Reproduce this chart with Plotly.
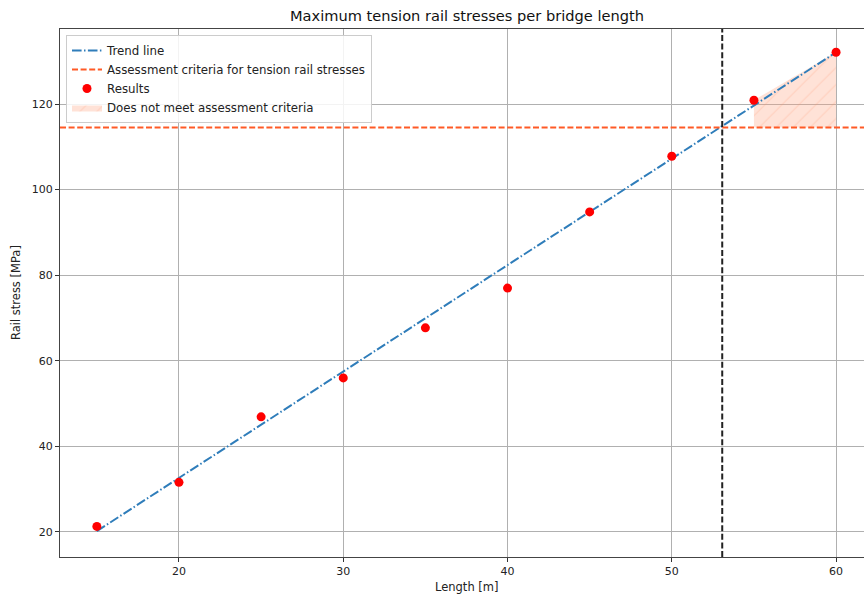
import plotly.graph_objects as go

# ---- data ----
lengths = [15, 20, 25, 30, 35, 40, 45, 50, 55, 60]
results = [21.3, 31.6, 46.9, 56.0, 67.7, 77.0, 94.8, 107.8, 120.9, 132.1]
trend_x = [15, 60]
trend_y = [20.2, 132.1]
criteria = 114.5
limit_length = 53.07
x_ticks = [20, 30, 40, 50, 60]
y_ticks = [20, 40, 60, 80, 100, 120]

FONT = "DejaVu Sans"
W, H = 864, 597
L, R, T, B = 60, 0, 29, 40

fig = go.Figure()

ex_x = [x for x, y in zip(lengths, results) if y > criteria]
ex_y = [y for y in results if y > criteria]
fig.add_trace(go.Scatter(
    x=ex_x + ex_x[::-1], y=ex_y + [criteria] * len(ex_x), fill="toself",
    mode="lines", line=dict(width=0, color="rgba(0,0,0,0)"),
    fillcolor="rgba(255,160,122,0.3)",
    fillpattern=dict(shape="/", fgcolor="rgba(255,140,100,0.45)",
                     bgcolor="rgba(255,160,122,0.3)", size=12, solidity=0.1),
    name="Does not meet assessment criteria", legendrank=4,
))
fig.add_trace(go.Scatter(
    x=trend_x, y=trend_y, mode="lines", name="Trend line", legendrank=1,
    line=dict(color="#2f7dba", width=2, dash="9.6px,2.4px,1.5px,2.4px"),
))
fig.add_trace(go.Scatter(
    x=[None], y=[None], mode="lines", name="Assessment criteria for tension rail stresses",
    legendrank=2, line=dict(color="#ff5a26", width=2, dash="6px,2.6px"),
))
fig.add_trace(go.Scatter(
    x=lengths, y=results, mode="markers", name="Results", legendrank=3,
    marker=dict(color="#ff0000", size=9, line=dict(width=0)),
))

# reference lines
fig.add_shape(type="line", xref="x domain", yref="y", x0=0, x1=1, y0=criteria, y1=criteria,
              line=dict(color="#ff5a26", width=2, dash="6px,2.6px"))
fig.add_shape(type="line", xref="x", yref="y domain", x0=limit_length, x1=limit_length, y0=0, y1=1,
              line=dict(color="#222222", width=2, dash="6px,2.6px"))

pw = W - L - R
ph = H - T - B
cx = (467 - L) / pw

fig.add_annotation(text="Maximum tension rail stresses per bridge length", xref="paper", yref="paper",
                   x=cx, y=1, yshift=14, xanchor="center", yanchor="middle", showarrow=False,
                   font=dict(family=FONT, size=14.6, color="#111111"))
fig.add_annotation(text="Length [m]", xref="paper", yref="paper",
                   x=cx, y=0, yshift=-30, xanchor="center", yanchor="middle", showarrow=False,
                   font=dict(family=FONT, size=11.5, color="#222222"))
fig.add_annotation(text="Rail stress [MPa]", xref="paper", yref="paper", textangle=-90,
                   x=0, xshift=-44, y=0.5, xanchor="center", yanchor="middle", showarrow=False,
                   font=dict(family=FONT, size=11.5, color="#222222"))

fig.update_layout(
    width=W, height=H,
    margin=dict(l=L, r=R, t=T, b=B, pad=0),
    paper_bgcolor="white", plot_bgcolor="white",
    font=dict(family=FONT, size=11, color="#222222"),
    showlegend=True,
    legend=dict(x=(66 - L) / pw, y=(H - B - 35) / ph, xanchor="left", yanchor="top",
                bgcolor="rgba(255,255,255,0.85)", bordercolor="#cccccc", borderwidth=1,
                font=dict(family=FONT, size=11.8, color="#222222"),
                tracegroupgap=0, itemwidth=30),
    xaxis=dict(range=[12.757, 61.70], tickvals=x_ticks, ticks="outside", ticklen=4,
               tickcolor="#333333", showgrid=True, gridcolor="#b0b0b0", gridwidth=1,
               showline=True, linecolor="#444444", linewidth=1.2, mirror=True,
               zeroline=False, tickfont=dict(family=FONT, size=11, color="#222222")),
    yaxis=dict(range=[14.15, 137.54], tickvals=y_ticks, ticks="outside", ticklen=4,
               tickcolor="#333333", showgrid=True, gridcolor="#b0b0b0", gridwidth=1,
               showline=True, linecolor="#444444", linewidth=1.2,
               zeroline=False, tickfont=dict(family=FONT, size=11, color="#222222")),
)

fig.write_html("out.html", config={"displayModeBar": False},
               post_script="document.body.style.margin='0';document.body.style.overflow='hidden';")
